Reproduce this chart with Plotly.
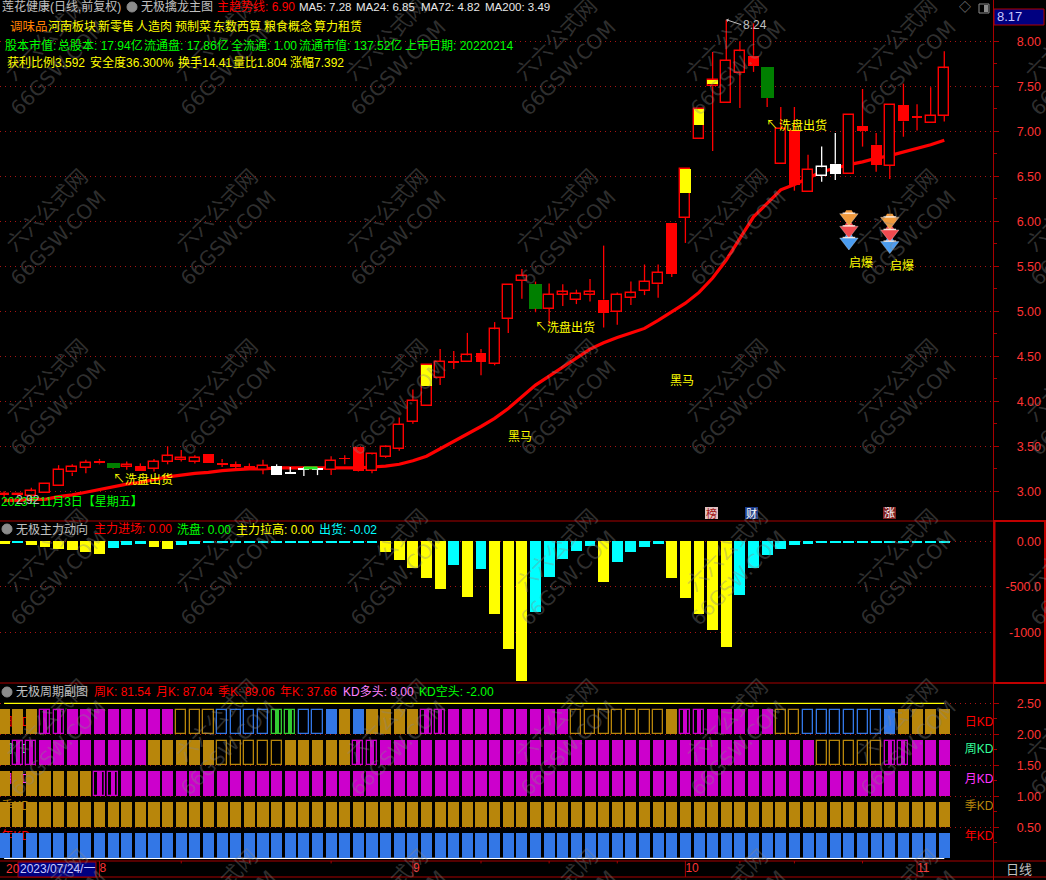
import plotly.graph_objects as go

# ---------- data ----------
candle_high = [3.00,2.98,3.04,3.08,3.29,3.30,3.35,3.36,3.31,3.33,3.31,3.36,3.50,3.46,3.40,3.41,3.36,3.33,3.31,3.35,
               3.30,3.27,3.27,3.26,3.39,3.40,3.49,3.42,3.51,3.82,4.13,4.40,4.58,4.56,4.76,4.58,4.88,5.29,5.47,5.33,
               5.31,5.30,5.24,5.36,5.73,5.21,5.33,5.52,5.52,5.98,6.58,7.25,7.88,8.24,8.00,8.20,7.71,7.27,7.27,6.74,
               6.83,6.98,7.18,7.47,6.98,7.29,7.53,7.30,7.49,7.89]
body_top = [2.97,2.97,3.00,3.08,3.24,3.27,3.32,3.34,3.31,3.29,3.28,3.33,3.39,3.37,3.37,3.41,3.32,3.30,3.28,3.28,
            3.28,3.21,3.25,3.25,3.34,3.37,3.49,3.41,3.49,3.74,4.00,4.40,4.44,4.44,4.51,4.54,4.80,5.29,5.39,5.30,
            5.18,5.21,5.19,5.21,5.13,5.18,5.20,5.33,5.43,5.98,6.58,7.25,7.57,7.78,7.89,7.84,7.71,7.03,7.01,6.57,
            6.60,6.64,7.18,7.06,6.85,7.29,7.29,7.17,7.17,7.70]
body_bottom = [2.96,2.96,2.95,2.98,3.06,3.21,3.26,3.31,3.26,3.27,3.23,3.25,3.33,3.35,3.33,3.31,3.30,3.27,3.24,3.24,
               3.18,3.20,3.24,3.24,3.24,3.36,3.23,3.23,3.38,3.47,3.77,3.95,4.26,4.43,4.44,4.44,4.42,4.92,5.34,5.03,
               5.03,5.18,5.13,5.18,4.98,4.99,5.15,5.23,5.30,5.42,6.04,6.92,7.50,7.31,7.65,7.73,7.37,6.64,6.40,6.33,
               6.50,6.53,6.53,7.00,6.63,6.62,7.11,7.15,7.09,7.17]
candle_low = [2.93,2.95,2.93,2.98,3.06,3.17,3.20,3.30,3.25,3.24,3.23,3.22,3.30,3.33,3.31,3.31,3.27,3.26,3.24,3.19,
              3.18,3.20,3.17,3.18,3.18,3.30,3.22,3.20,3.37,3.45,3.75,3.95,4.18,4.36,4.44,4.29,4.40,4.76,5.14,4.99,
              4.85,5.06,5.08,5.11,4.82,4.85,5.07,5.18,5.15,5.38,5.76,6.92,6.78,7.31,7.26,7.66,7.27,6.64,6.34,6.33,
              6.44,6.46,6.53,6.83,6.55,6.47,6.94,7.01,7.09,7.11]
candle_kind = ["h","h","h","h","h","h","h","f","g","h","f","h","h","h","h","f","f","f","f","h",
               "W","W","W","W","h","f","f","h","h","h","h","h","h","f","h","f","h","h","h","g",
               "h","h","h","h","f","h","h","h","h","f","h","h","h","h","h","f","g","h","f","h",
               "w","W","h","f","f","h","f","f","h","h"]
yellow_index = [31, 50, 51, 52]
yellow_bottom = [4.17, 6.31, 7.07, 7.53]
trend_line = [2.90,2.90,2.91,2.91,2.94,2.96,2.99,3.02,3.05,3.08,3.10,3.13,3.16,3.18,3.20,3.21,3.23,3.24,3.25,3.25,
              3.26,3.26,3.26,3.26,3.26,3.26,3.26,3.27,3.28,3.30,3.34,3.39,3.47,3.56,3.64,3.72,3.81,3.92,4.05,4.18,
              4.28,4.38,4.49,4.58,4.65,4.71,4.76,4.81,4.90,5.00,5.09,5.21,5.37,5.57,5.81,6.05,6.20,6.35,6.41,6.48,
              6.55,6.59,6.63,6.66,6.70,6.73,6.77,6.81,6.85,6.90]
green_strip_x = [22, 23]
green_strip_y = [3.26, 3.26]
gem_x = [62, 62, 62, 65, 65, 65]
gem_y = [6.04, 5.90, 5.77, 6.00, 5.86, 5.73]
gem_colors = ["#f09a3c", "#f04a50", "#4a9cf0", "#f09a3c", "#f04a50", "#4a9cf0"]

flow_values = [-29,-18,-44,-66,-88,-99,-117,-143,-73,-44,-29,-62,-88,-40,-29,-18,-12,-12,-12,-12,
               -12,-12,-12,-12,-12,-12,-12,-12,-117,-208,-292,-406,-526,-260,-614,-307,-797,-1181,-1531,-775,
               -391,-194,-106,-51,-446,-227,-117,-62,-33,-402,-621,-797,-972,-1159,-588,-292,-150,-84,-44,-29,
               -18,-12,-12,-12,-12,-12,-12,-12,-12,-12]
flow_kind = ["y","c","y","y","y","y","y","y","c","c","c","y","y","c","c","c","c","c","c","c",
             "c","c","c","c","c","c","c","c","y","y","y","y","y","c","y","c","y","y","y","c",
             "c","c","c","c","y","c","c","c","c","y","y","y","y","y","c","c","c","c","c","c",
             "c","c","c","c","c","c","c","c","c","c"]

kd_day = ["g","g","g","M","M","m","m","m","m","m","m","m","m","o","o","o","u","u","u","u",
          "G","G","u","u","b","g","b","g","g","g","g","M","M","m","m","m","m","m","m","m",
          "m","m","o","o","o","o","o","o","o","g","M","M","m","m","m","m","m","o","o","u",
          "u","u","u","u","u","b","g","g","g","g"]
kd_week = ["g","M","M","m","m","m","m","m","m","m","m","g","g","g","g","g","o","o","o","o",
           "o","g","g","g","g","g","M","M","m","m","m","m","m","m","m","m","m","m","m","m",
           "m","m","m","m","m","m","m","m","m","m","m","m","m","m","m","m","m","m","m","m",
           "o","o","o","o","o","M","M","m","m","m"]
kd_month = ["g","g","g","g","g","g","g","M","M","m","m","m","m","m","m","m","m","m","m","m",
            "m","m","m","m","m","m","m","m","m","m","m","m","m","m","m","m","m","m","m","m",
            "m","m","m","m","m","m","m","m","m","m","m","m","m","m","m","m","m","m","m","m",
            "m","m","m","m","m","m","m","m","m","m"]
kd_season = ["g"] * 70
kd_year = ["b"] * 70
kd_rows = [kd_year, kd_season, kd_month, kd_week, kd_day]
kd_bases = [0.0, 0.5, 1.0, 1.5, 2.0]
kd_height = 0.41
kd_names = ["年KD", "季KD", "月KD", "周KD", "日KD"]
kd_name_y = [0.35, 0.83, 1.26, 1.75, 2.19]
kd_name_colors = ["#ff0000", "#b8860b", "#ff33ff", "#33ff99", "#ff0000"]

month_ticks = [7, 30, 50, 67]
month_labels = ["8", "9", "10", "11"]
minor_ticks = [13, 18, 24, 35, 40, 45, 54, 58, 63]

price_ticks = [3.0, 3.5, 4.0, 4.5, 5.0, 5.5, 6.0, 6.5, 7.0, 7.5, 8.0]
flow_ticks = [0, -500, -1000]
flow_tick_labels = ["0.00", "-500.0", "-1000"]
kd_ticks = [0.5, 1.0, 1.5, 2.0, 2.5]

# ---------- layout helpers ----------
W, H = 1046, 880
FONT = "Liberation Sans, Noto Sans CJK SC, sans-serif"
N = len(candle_high)
RED, GRID, FRAME, TICK = "#ff0000", "#a81414", "#a80000", "#ff3333"
xs = list(range(N))
BAR_STEP = 13.626
X0 = 4.1


def fx(p):
    return p / W


def fy(p):
    return 1 - p / H


annotations, shapes = [], []


def label(text, x, y, color, size=12, anchor="left", angle=0, family=FONT):
    annotations.append(dict(text=text, x=fx(x), y=fy(y), xref="paper", yref="paper",
                            xanchor=anchor, yanchor="middle", showarrow=False, borderpad=0,
                            textangle=angle, font=dict(family=family, size=size, color=color)))


def rect(x0, y0, x1, y1, fill="rgba(0,0,0,0)", line=None, lw=1, kind="rect"):
    shapes.append(dict(type=kind, xref="paper", yref="paper", x0=fx(x0), x1=fx(x1), y0=fy(y0), y1=fy(y1),
                       fillcolor=fill, line=dict(color=line or fill, width=lw)))


def hline(y, x0=0, x1=W, color=FRAME, lw=1):
    shapes.append(dict(type="line", xref="paper", yref="paper", x0=fx(x0), x1=fx(x1), y0=fy(y), y1=fy(y),
                       line=dict(color=color, width=lw)))


def vline(x, y0=0, y1=H, color=FRAME, lw=1):
    shapes.append(dict(type="line", xref="paper", yref="paper", x0=fx(x), x1=fx(x), y0=fy(y0), y1=fy(y1),
                       line=dict(color=color, width=lw)))


def bars(x, base, height, fill, width, line=None, lw=0, yaxis="y2"):
    return go.Bar(x=x, base=base, y=height, yaxis=yaxis, width=width, hoverinfo="skip", showlegend=False,
                  marker=dict(color=fill, line=dict(color=line or fill, width=lw)))


fig = go.Figure()

# ---------- price panel ----------
fig.add_trace(go.Scatter(x=xs, y=trend_line, mode="lines", yaxis="y", line=dict(color=RED, width=3.2),
                         hoverinfo="skip", showlegend=False))

styles = {"h": ("#000000", RED, 0.735, 1.4), "f": (RED, RED, 0.80, 0), "g": ("#007f00", "#007f00", 0.95, 0),
          "w": ("#000000", "#ffffff", 0.735, 1.4), "W": ("#ffffff", "#ffffff", 0.80, 0)}
for kind, (fill, line, width, lw) in styles.items():
    idx = [i for i in xs if candle_kind[i] == kind]
    fig.add_trace(bars(idx, [body_bottom[i] for i in idx], [body_top[i] - body_bottom[i] for i in idx],
                       fill, width, line, lw))

fig.add_trace(bars(yellow_index, yellow_bottom, [body_top[i] - b for i, b in zip(yellow_index, yellow_bottom)],
                   "#ffff00", 0.76))

for colour, test in ((RED, "hfg"), ("#ffffff", "wW")):
    wx, wy = [], []
    for i in xs:
        if candle_kind[i] in test:
            wx += [i, i, None, i, i, None]
            wy += [candle_high[i], body_top[i], None, body_bottom[i], candle_low[i], None]
    fig.add_trace(go.Scatter(x=wx, y=wy, mode="lines", yaxis="y2", line=dict(color=colour, width=1.3),
                             hoverinfo="skip", showlegend=False))

fig.add_trace(go.Scatter(x=green_strip_x, y=green_strip_y, mode="lines", yaxis="y2",
                         line=dict(color="#22ee22", width=3), hoverinfo="skip", showlegend=False))
fig.add_trace(go.Scatter(x=gem_x, y=[v + 0.03 for v in gem_y], mode="markers", yaxis="y2", hoverinfo="skip",
                         showlegend=False,
                         marker=dict(symbol="hexagon2", size=11, color=gem_colors, line=dict(width=0))))
fig.add_trace(go.Scatter(x=gem_x, y=gem_y, mode="markers", yaxis="y2", hoverinfo="skip", showlegend=False,
                         marker=dict(symbol="triangle-down", size=16, color=gem_colors,
                                     line=dict(color="rgba(255,255,255,0.3)", width=1))))
fig.add_trace(go.Scatter(x=gem_x, y=[v + 0.05 for v in gem_y], mode="markers", yaxis="y2", hoverinfo="skip",
                         showlegend=False,
                         marker=dict(symbol="line-ew", size=9, line=dict(color="rgba(255,240,230,0.9)", width=1.4))))

# ---------- money-flow panel ----------
for kind, colour in (("y", "#ffff00"), ("c", "#00ffff")):
    idx = [i for i in xs if flow_kind[i] == kind]
    fig.add_trace(bars(idx, [0] * len(idx), [flow_values[i] for i in idx], colour, 0.80, yaxis="y3"))

# ---------- KD panel ----------
kd_fill = {"g": "#b8860b", "m": "#cc00cc", "b": "#3377e6"}
kd_hollow = {"o": "#b8860b", "u": "#3377e6"}
kd_striped = {"M": "#cc00cc", "G": "#33cc33"}

fig.add_trace(go.Scatter(x=xs, y=[0] * N, mode="lines", yaxis="y5", line=dict(color="#ffffff", width=1.2),
                         hoverinfo="skip", showlegend=False))
fig.add_trace(go.Scatter(x=[-0.2] * 5, y=kd_name_y, text=kd_names, mode="text", yaxis="y5",
                         textposition="middle right", cliponaxis=False, hoverinfo="skip", showlegend=False,
                         textfont=dict(family=FONT, size=12, color=kd_name_colors)))
for row, base in zip(kd_rows, kd_bases):
    for code, colour in kd_fill.items():
        idx = [i for i in xs if row[i] == code]
        if idx:
            fig.add_trace(bars(idx, [base] * len(idx), [kd_height] * len(idx), colour, 0.81, yaxis="y6"))
    for code, colour in kd_hollow.items():
        idx = [i for i in xs if row[i] == code]
        if idx:
            fig.add_trace(bars(idx, [base + 0.01] * len(idx), [kd_height - 0.02] * len(idx), "#000000", 0.74,
                               colour, 1.3, yaxis="y6"))
    for code, colour in kd_striped.items():
        idx = [i for i in xs if row[i] == code]
        if idx:
            fig.add_trace(bars(idx, [base + 0.01] * len(idx), [kd_height - 0.02] * len(idx), "#000000", 0.74,
                               colour, 1.3, yaxis="y6"))
            fig.add_trace(bars(idx, [base] * len(idx), [kd_height] * len(idx), colour, 0.30, yaxis="y6"))
fig.add_trace(go.Scatter(x=[0, N - 1], y=[2.5, 2.5], mode="lines", yaxis="y6", line=dict(color="#ffff00", width=1.2),
                         hoverinfo="skip", showlegend=False))
fig.add_trace(go.Scatter(x=[70.5] * 5, y=kd_name_y, text=kd_names, mode="text", yaxis="y6",
                         textposition="middle right", cliponaxis=False, hoverinfo="skip", showlegend=False,
                         textfont=dict(family=FONT, size=12, color=kd_name_colors)))

# ---------- date strip ----------
mx, my = [], []
for t in month_ticks:
    mx += [t, t, None]
    my += [0, 1, None]
for t in minor_ticks:
    mx += [t, t, None]
    my += [1, 0.85, None]
fig.add_trace(go.Scatter(x=mx, y=my, mode="lines", yaxis="y7", line=dict(color=FRAME, width=1),
                         hoverinfo="skip", showlegend=False))
fig.add_trace(go.Scatter(x=month_ticks, y=[0.5] * 4, text=month_labels, mode="text", yaxis="y7",
                         textposition="middle right", cliponaxis=False, hoverinfo="skip", showlegend=False,
                         textfont=dict(family=FONT, size=12, color=TICK)))

# ---------- frames ----------
for y in (521, 683, 861, 877):
    hline(y)
vline(993.5)
rect(994, 9, 1044, 25, "#000080", "#b00000", 1)
rect(994.5, 521, 1045, 683, line="#c00000", lw=2)
rect(18, 862, 96, 877, "#000080", "#a80000", 1)
for cx, cy in ((132, 7), (7, 529), (7, 692)):
    rect(cx - 5, cy - 5, cx + 5, cy + 5, "#8c8c8c", "#8c8c8c", 1, kind="circle")
rect(979, 4, 989, 13, line="#8c8c8c", lw=1)
rect(984, 5, 988, 12, "#8c8c8c", "#8c8c8c", 0)

# ---------- watermark ----------
WM = "rgba(135,135,135,0.36)"
for r in range(6):
    for c in range(7):
        label("六六公式网", 46 + 170 * c, 40 + 170 * r, WM, 21, "center", -45)
        label("66GSW.COM", 58 + 170 * c, 68 + 170 * r, WM, 20, "center", -45, "DejaVu Sans, sans-serif")

# ---------- header texts ----------
GRAY = "#c0c0c0"
YEL, GRN, CYN = "#ffff00", "#00ff00", "#00ffff"
label("莲花健康(日线,前复权)", 1, 7, GRAY, 12)
label("无极擒龙主图", 140, 7, GRAY, 12)
label("主趋势线: 6.90", 216, 7, RED)
label("MA5: 7.28", 298, 7, "#e8e8e8", 11.5)
label("MA24: 6.85", 355, 7, "#e8e8e8", 11.5)
label("MA72: 4.82", 420, 7, "#e8e8e8", 11.5)
label("MA200: 3.49", 484, 7, "#e8e8e8", 11.5)
label("调味品", 9, 27, "#ff8000", 12.5)
label("河南板块", 47, 27, YEL)
label("新零售", 97, 27, YEL)
label("人造肉", 135, 27, YEL)
label("预制菜", 174, 27, YEL)
label("东数西算", 212, 27, YEL)
label("粮食概念", 263, 27, YEL)
label("算力租赁", 313, 27, YEL)
label("股本市值:", 4, 46, GRN)
label("总股本: 17.94亿", 57, 46, GRN)
label("流通盘: 17.86亿", 143, 46, GRN)
label("全流通: 1.00", 230, 46, GRN)
label("流通市值: 137.52亿", 298, 46, GRN)
label("上市日期: 20220214", 404, 46, GRN)
label("获利比例3.592", 6, 63, YEL)
label("安全度36.300%", 89, 63, YEL)
label("换手14.41", 177, 63, YEL)
label("量比1.804", 232, 63, YEL)
label("涨幅7.392", 289, 63, YEL)

# ---------- chart texts ----------
label("↖", 112, 479, YEL)
label("洗盘出货", 124, 479, YEL)
label("↖", 534, 327, YEL)
label("洗盘出货", 546, 327, YEL)
label("↖", 765, 125, YEL)
label("洗盘出货", 778, 125, YEL)
label("黑马", 507, 437, YEL)
label("黑马", 669, 381, YEL)
label("启爆", 848, 263, YEL)
label("启爆", 889, 266, YEL)
label("2023年11月3日【星期五】", 0, 502, GRN)
label("2.92", 15, 500, GRAY)
label("8.17", 996, 17, "#c8c8ff", 13)
label("◇", 965, 8, "#8c8c8c", 12, "center")
rect(705, 507, 718, 519, "#e0c0c0", "#e0c0c0", 0)
label("榜", 711.5, 513, "#a01010", 11, "center")
rect(745, 507, 758, 519, "#1a3a8a", "#1a3a8a", 0)
label("财", 751.5, 513, "#ffffff", 11, "center")
rect(883, 507, 896, 519, "#802020", "#802020", 0)
label("涨", 889.5, 513, "#ffffff", 11, "center")
annotations.append(dict(x=53, y=8.24, xref="x", yref="y", ax=15, ay=5, text="8.24", xanchor="left",
                        showarrow=True, arrowhead=1, arrowsize=0.7, arrowwidth=1, arrowcolor=GRAY,
                        font=dict(family=FONT, size=12, color=GRAY)))

# ---------- sub-panel titles ----------
label("无极主力动向", 15, 529, GRAY)
label("主力进场: 0.00", 93, 529, RED)
label("洗盘: 0.00", 176, 529, GRN)
label("主力拉高: 0.00", 235, 529, YEL)
label("出货: -0.02", 318, 529, CYN)
label("无极周期副图", 15, 692, GRAY)
label("周K: 81.54", 93, 692, RED)
label("月K: 87.04", 155, 692, RED)
label("季K: 89.06", 217, 692, RED)
label("年K: 37.66", 279, 692, RED)
label("KD多头: 8.00", 342, 692, "#ff80ff")
label("KD空头: -2.00", 418, 692, GRN)
label("20", 5, 869, TICK)
label("2023/07/24/一", 19, 869, "#c8c8ff")
label("日线", 1005, 869, GRAY, 13)

# ---------- axes ----------
MAIN = (8.459, 2.670)
FLOW = (221.5, -1555)
KD = (2.829, -0.042)
LABEL_POS = fx(1041)


def label_axis(domain, rng, vals, text=None):
    return dict(domain=domain, range=[rng[1], rng[0]], anchor="free", position=LABEL_POS, side="left",
                tickmode="array", tickvals=vals, ticktext=text or [f"{v:.2f}" for v in vals], ticks="",
                tickfont=dict(family=FONT, size=12.5, color=TICK), showline=False, zeroline=False,
                showgrid=True, gridcolor=GRID, griddash="1px,4px", gridwidth=1, fixedrange=True)


def tick_axis(over, rng, vals, minor):
    return dict(overlaying=over, range=[rng[1], rng[0]], anchor="x", side="right", tickmode="array", tickvals=vals,
                ticks="outside", ticklen=5, tickcolor=FRAME, showticklabels=False, showgrid=False, zeroline=False,
                showline=False, fixedrange=True,
                minor=dict(tickmode="array", tickvals=minor, ticks="outside", ticklen=3, tickcolor=FRAME))


fig.update_layout(
    width=W, height=H, autosize=False, margin=dict(l=0, r=0, t=0, b=0, autoexpand=False),
    paper_bgcolor="#000000", plot_bgcolor="#000000", barmode="overlay", showlegend=False,
    annotations=annotations, shapes=shapes, bargap=0,
    xaxis=dict(domain=[0, 993 / W], range=[-X0 / BAR_STEP, (993 - X0) / BAR_STEP], visible=False, anchor="y",
               fixedrange=True),
    yaxis=label_axis([fy(521), 1], MAIN, price_ticks),
    yaxis2=tick_axis("y", MAIN, price_ticks, [3.25, 3.75, 4.25, 4.75, 5.25, 5.75, 6.25, 6.75, 7.25, 7.75]),
    yaxis3=label_axis([fy(683), fy(521)], FLOW, flow_ticks, flow_tick_labels),
    yaxis4=tick_axis("y3", FLOW, flow_ticks, [-250, -750, -1250]),
    yaxis5=label_axis([fy(861), fy(683)], KD, kd_ticks),
    yaxis6=tick_axis("y5", KD, kd_ticks, [0.25, 0.75, 1.25, 1.75, 2.25]),
    yaxis7=dict(domain=[fy(877), fy(861)], range=[0, 1], visible=False, anchor="x", fixedrange=True),
)

fig.write_html("out.html", config=dict(displayModeBar=False, responsive=False),
               post_script="document.body.style.margin='0';document.body.style.overflow='hidden';")
